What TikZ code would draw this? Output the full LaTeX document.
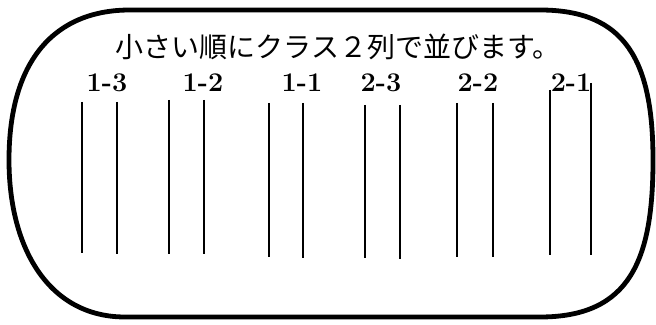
\documentclass[tikz,border=0pt]{standalone}
\usepackage{fontspec}
\newfontfamily\jpfont{Noto Sans CJK JP}

\begin{document}
\begin{tikzpicture}
    [x=0.5pt, y=-0.5pt,
    TitleText/.style={font=\jpfont\fontsize{14}{16}\selectfont, inner sep=0pt},
    ClassLabel/.style={font=\bfseries\fontsize{13.5}{16}\selectfont, anchor=base, inner sep=0pt},
    RowLine/.style={line width=0.8pt},
    FrameLine/.style={line width=2.4pt, line join=round}]
    \useasboundingbox (0, 0) rectangle (656, 325);
    \draw[FrameLine] (130, 10) -- (540, 10)
        .. controls (625, 10) and (653, 60) .. (653, 160)
        .. controls (653, 260) and (630, 317) .. (540, 317)
        -- (125, 317)
        .. controls (50, 317) and (9, 250) .. (9, 160)
        .. controls (9, 60) and (55, 10) .. (130, 10) -- cycle;
    \node[TitleText] (title) at (338, 47){小さい順にクラス２列で並びます。};
    \node[ClassLabel] (c13) at (107, 92){1-3};
    \node[ClassLabel] (c12) at (203, 92){1-2};
    \node[ClassLabel] (c11) at (302, 92){1-1};
    \node[ClassLabel] (c23) at (381, 92){2-3};
    \node[ClassLabel] (c22) at (478, 92){2-2};
    \node[ClassLabel] (c21) at (571, 92){2-1};
    \draw[RowLine] (82, 102) -- (82, 253);
    \draw[RowLine] (117, 102) -- (117, 254);
    \draw[RowLine] (169, 100) -- (169, 254);
    \draw[RowLine] (204, 100) -- (204, 254);
    \draw[RowLine] (269, 103) -- (269, 257);
    \draw[RowLine] (303, 103) -- (303, 258);
    \draw[RowLine] (365, 105) -- (365, 258);
    \draw[RowLine] (400, 105) -- (400, 259);
    \draw[RowLine] (457, 103) -- (457, 257);
    \draw[RowLine] (493, 103) -- (493, 257);
    \draw[RowLine] (550, 90) -- (550, 255);
    \draw[RowLine] (591, 83) -- (591, 255);
\end{tikzpicture}
\end{document}
